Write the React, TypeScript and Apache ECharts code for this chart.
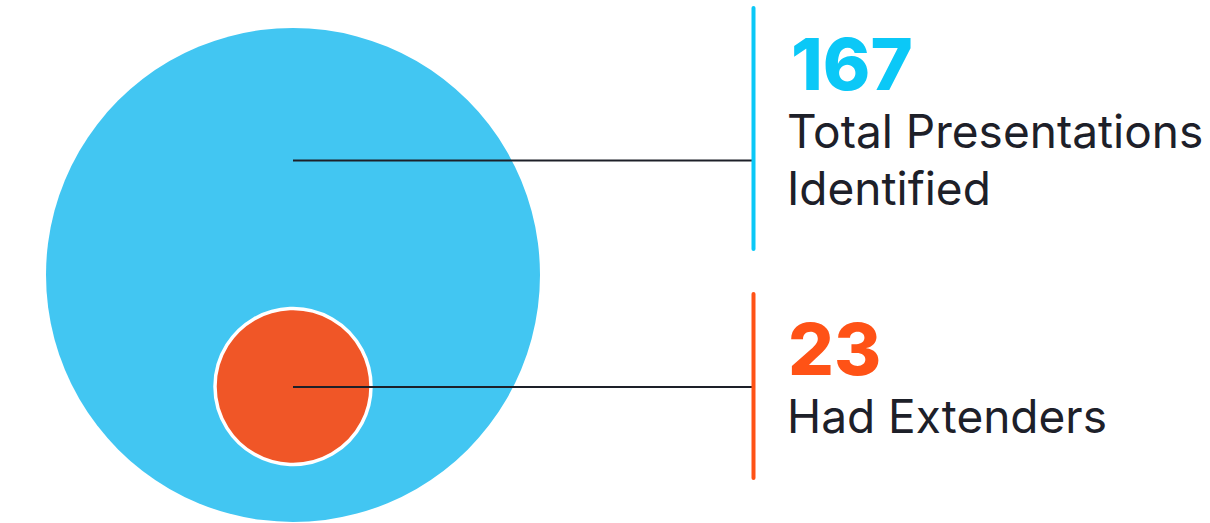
import React, { useEffect, useRef } from "react";
import * as echarts from "echarts";

const values = [167, 23];
const labels = [["Total Presentations", "Identified"], ["Had Extenders"]];
const circleColors = ["#42C6F2", "#F05627"];
const accentColors = ["#0BC8F7", "#FF5216"];

export default function App() {
  const ref = useRef<HTMLDivElement>(null);
  useEffect(() => {
    document.body.style.margin = "0";
    const chart = echarts.init(ref.current!, null, { renderer: "svg" });
    const big = { cx: 293, cy: 275, r: 247 };
    const small = { cx: 293, cy: 386.5, r: 78 };
    const barX = 753.5;
    const textX = 787;
    const numFs = 72;
    const labFs = 46;
    const mid = (baseline: number, fs: number) => baseline - 0.3635 * fs;
    const txt = (s: string, x: number, baseline: number, fs: number, weight: number, fill: string) => ({
      type: "text",
      x,
      y: mid(baseline, fs),
      style: {
        text: s,
        fill,
        font: `${weight} ${fs}px Inter`,
        verticalAlign: "middle",
        align: "left",
      },
    });
    const graphic: any[] = [
      { type: "circle", shape: big, style: { fill: circleColors[0] } },
      {
        type: "circle",
        shape: small,
        style: { fill: circleColors[1], stroke: "#ffffff", lineWidth: 3.5 },
      },
      { type: "line", shape: { x1: 293, y1: 160.5, x2: barX, y2: 160.5 }, style: { stroke: "#1d2029", lineWidth: 2 } },
      { type: "line", shape: { x1: 293, y1: 387, x2: barX, y2: 387 }, style: { stroke: "#1d2029", lineWidth: 2 } },
      { type: "line", shape: { x1: barX, y1: 8, x2: barX, y2: 249 }, style: { stroke: accentColors[0], lineWidth: 4, lineCap: "round" } },
      { type: "line", shape: { x1: barX, y1: 294, x2: barX, y2: 478 }, style: { stroke: accentColors[1], lineWidth: 4, lineCap: "round" } },
      txt(String(values[0]), textX + 4, 90, numFs, 800, accentColors[0]),
      txt(labels[0][0], textX, 147.5, labFs, 400, "#1d2029"),
      txt(labels[0][1], textX, 205, labFs, 400, "#1d2029"),
      txt(String(values[1]), textX + 1, 375, numFs, 800, accentColors[1]),
      txt(labels[1][0], textX, 433, labFs, 400, "#1d2029"),
    ];
    chart.setOption({ animation: false, graphic });
    return () => chart.dispose();
  }, []);
  return <div ref={ref} style={{ width: 1210, height: 523 }} />;
}
